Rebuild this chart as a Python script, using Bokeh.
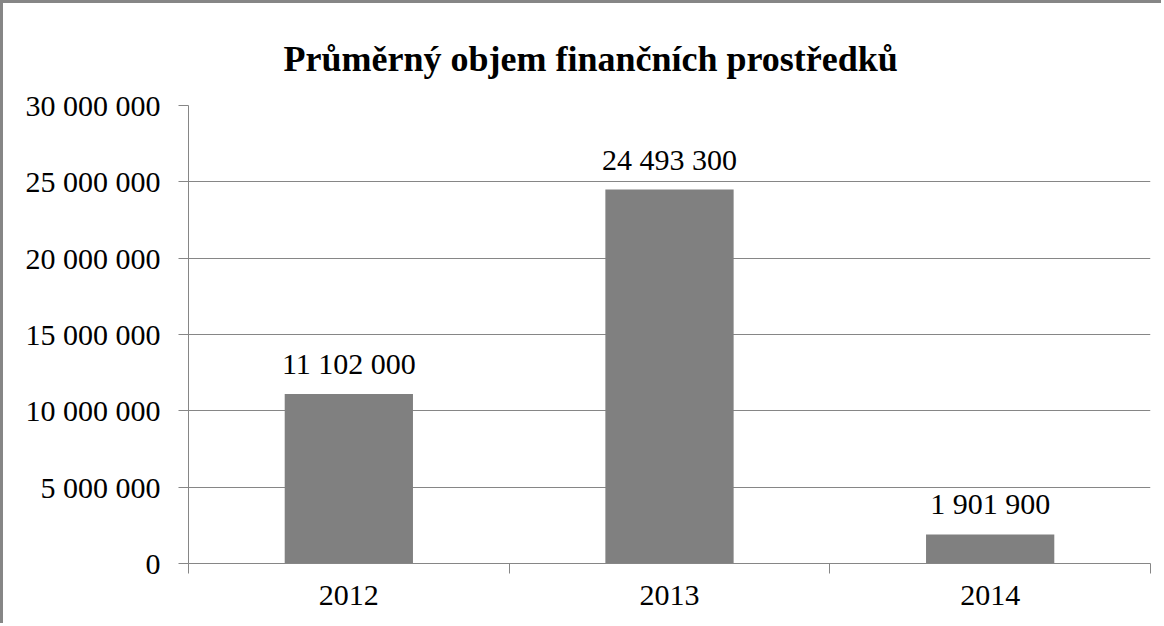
from bokeh.plotting import figure
from bokeh.models import FixedTicker, ColumnDataSource, Range1d, LabelSet
from bokeh.embed import file_html
from bokeh.resources import INLINE

years = ["2012", "2013", "2014"]
values = [11102000, 24493300, 1901900]
y_ticks = [0, 5000000, 10000000, 15000000, 20000000, 25000000, 30000000]
title_text = "Průměrný objem finančních prostředků"

def fmt(v):
    return "{:,}".format(int(v)).replace(",", " ")

xs = [i + 0.5 for i in range(len(years))]
src = ColumnDataSource(dict(x=xs, top=values, label=[fmt(v) for v in values]))

FONT = "Liberation Serif"
GRAY = "#868686"

p = figure(width=1161, height=623, output_backend="svg", toolbar_location=None,
           x_range=Range1d(0, len(years)), y_range=Range1d(y_ticks[0], y_ticks[-1]),
           min_border_left=185, min_border_right=14, min_border_top=102, min_border_bottom=63)
p.styles = {"border-left": "3px solid #868686", "border-top": "3px solid #868686"}

p.title.text = title_text
p.title.text_font = FONT
p.title.text_font_size = "36px"
p.title.text_font_style = "bold"
p.title.text_color = "black"
p.title.align = "left"
p.title.offset = 95
p.title.standoff = 54

p.vbar(x="x", top="top", width=0.4, source=src, fill_color="#808080", line_color=None)

labels = LabelSet(x="x", y="top", text="label", source=src, text_align="center",
                  text_baseline="alphabetic", y_offset=20, text_font=FONT,
                  text_font_size="30px", text_color="black")
p.add_layout(labels)

p.outline_line_color = None
p.background_fill_color = "white"
p.border_fill_color = "white"

p.xgrid.grid_line_color = None
p.ygrid.ticker = FixedTicker(ticks=y_ticks)
p.ygrid.grid_line_color = GRAY
p.ygrid.grid_line_width = 1

p.yaxis.ticker = FixedTicker(ticks=y_ticks)
p.yaxis.major_label_overrides = {t: fmt(t) for t in y_ticks}
p.yaxis.axis_line_color = GRAY
p.yaxis.major_tick_line_color = GRAY
p.yaxis.major_tick_out = 10
p.yaxis.major_tick_in = 0
p.yaxis.minor_tick_line_color = None
p.yaxis.major_label_text_font = FONT
p.yaxis.major_label_text_font_size = "30px"
p.yaxis.major_label_text_color = "black"
p.yaxis.major_label_standoff = 18

p.xaxis.ticker = FixedTicker(ticks=xs, minor_ticks=list(range(len(years) + 1)))
p.xaxis.major_label_overrides = {x: y for x, y in zip(xs, years)}
p.xaxis.axis_line_color = GRAY
p.xaxis.major_tick_line_color = None
p.xaxis.minor_tick_line_color = GRAY
p.xaxis.minor_tick_out = 10
p.xaxis.minor_tick_in = 0
p.xaxis.major_label_text_font = FONT
p.xaxis.major_label_text_font_size = "30px"
p.xaxis.major_label_text_color = "black"
p.xaxis.major_label_standoff = 12

open("out.html", "w").write(file_html(p, INLINE))
